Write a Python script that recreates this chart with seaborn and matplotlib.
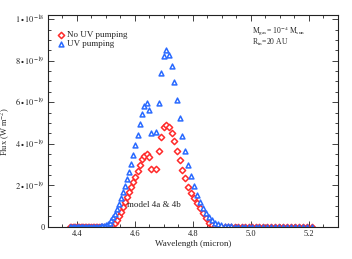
import numpy as np
import pandas as pd
import matplotlib
matplotlib.use("Agg")
import matplotlib.pyplot as plt
import matplotlib.ticker as mticker
import seaborn as sns

# CO v=1-0 line positions (micron): R branch (short side), P branch (long side)
wave_r = [4.3773, 4.3815, 4.3858, 4.3902, 4.3946, 4.3992, 4.4037, 4.4084, 4.4132, 4.4180,
          4.4229, 4.4279, 4.4330, 4.4381, 4.4434, 4.4487, 4.4541, 4.4596, 4.4652, 4.4708,
          4.4766, 4.4824, 4.4883, 4.4943, 4.5004, 4.5066, 4.5128, 4.5191, 4.5256, 4.5321,
          4.5387, 4.5454, 4.5522, 4.5591, 4.5661, 4.5731, 4.5803, 4.5876, 4.5950, 4.6024,
          4.6100, 4.6177, 4.6254, 4.6333, 4.6413, 4.6493, 4.6575]
wave_p = [4.6742, 4.6826, 4.6912, 4.6999, 4.7088, 4.7177, 4.7268, 4.7359, 4.7452, 4.7546,
          4.7641, 4.7737, 4.7834, 4.7933, 4.8032, 4.8134, 4.8236, 4.8339, 4.8444, 4.8550,
          4.8658, 4.8766, 4.8876, 4.8988, 4.9100, 4.9214, 4.9330, 4.9447, 4.9565, 4.9685,
          4.9806, 4.9928, 5.0053, 5.0178, 5.0305, 5.0434, 5.0564, 5.0696, 5.0829, 5.0964,
          5.1100, 5.1238, 5.1378, 5.1520, 5.1664, 5.1809, 5.1955, 5.2104]

# line fluxes, units of 1e-18 W m^-2
flux_nouv_r = [0.0, 0.0, 0.0, 0.0, 0.0, 0.0, 0.0, 0.0, 0.0, 0.0,
               0.0, 0.0, 0.0, 0.0, 0.0, 0.0, 0.0, 0.0, 0.0, 0.0,
               0.0, 0.0, 0.0, 0.0, 0.0, 0.001, 0.003, 0.006, 0.012, 0.021,
               0.034, 0.054, 0.074, 0.098, 0.122, 0.146, 0.170, 0.194, 0.218, 0.242,
               0.267, 0.299, 0.326, 0.342, 0.352, 0.336, 0.278]
flux_nouv_p = [0.278, 0.363, 0.435, 0.479, 0.492, 0.482, 0.452, 0.415, 0.366, 0.320,
               0.275, 0.235, 0.194, 0.162, 0.138, 0.114, 0.090, 0.066, 0.042, 0.021,
               0.010, 0.005, 0.002, 0.001, 0.0, 0.0, 0.0, 0.0, 0.0, 0.0,
               0.0, 0.0, 0.0, 0.0, 0.0, 0.0, 0.0, 0.0, 0.0, 0.0,
               0.0, 0.0, 0.0, 0.0, 0.0, 0.0, 0.0, 0.0]
flux_uv_r = [0.0, 0.0, 0.0, 0.0, 0.0, 0.0, 0.0, 0.0, 0.0, 0.0,
             0.0, 0.0, 0.0, 0.0, 0.0, 0.0, 0.0, 0.0, 0.0, 0.001,
             0.001, 0.002, 0.003, 0.005, 0.008, 0.013, 0.021, 0.032, 0.046, 0.064,
             0.085, 0.110, 0.138, 0.166, 0.197, 0.230, 0.265, 0.302, 0.347, 0.393,
             0.443, 0.495, 0.545, 0.580, 0.596, 0.564, 0.454]
flux_uv_p = [0.459, 0.596, 0.741, 0.821, 0.850, 0.829, 0.776, 0.697, 0.612, 0.524,
             0.439, 0.363, 0.300, 0.246, 0.198, 0.154, 0.122, 0.090, 0.066, 0.047,
             0.032, 0.021, 0.013, 0.008, 0.005, 0.003, 0.002, 0.001, 0.0, 0.0,
             0.0, 0.0, 0.0, 0.0, 0.0, 0.0, 0.0, 0.0, 0.0, 0.0,
             0.0, 0.0, 0.0, 0.0, 0.0, 0.0, 0.0, 0.0]

series_names = ["No UV pumping", "UV pumping"]
series_colors = ["#ff2a2a", "#2a6aff"]
series_markers = ["D", "^"]

ytick_vals = [0.0, 0.2, 0.4, 0.6, 0.8, 1.0]
ytick_labels = ["0", r"$2\bullet10^{-19}$", r"$4\bullet10^{-19}$",
                r"$6\bullet10^{-19}$", r"$8\bullet10^{-19}$", r"$1\bullet10^{-18}$"]
xtick_vals = [4.4, 4.6, 4.8, 5.0, 5.2]

n = len(wave_r) + len(wave_p)
df = pd.DataFrame({
    "wave": (wave_r + wave_p) * 2,
    "flux": flux_nouv_r + flux_nouv_p + flux_uv_r + flux_uv_p,
    "model": [series_names[0]] * n + [series_names[1]] * n,
})

sns.set_style("ticks")
plt.rcParams["font.family"] = ["Liberation Serif", "DejaVu Serif"]
plt.rcParams["mathtext.fontset"] = "stix"

fig = plt.figure(figsize=(3.52, 2.59), dpi=100)
ax = fig.add_axes([0.136, 0.124, 0.823, 0.818])

for name, col, mk, sz in zip(series_names, series_colors, series_markers, [10, 12]):
    sub = df[df["model"] == name]
    sns.scatterplot(data=sub, x="wave", y="flux", marker=mk, s=sz, color=col,
                    ax=ax, label=name, legend=False)
    coll = ax.collections[-1]
    coll.set_facecolor("white")
    coll.set_edgecolor(col)
    coll.set_linewidth(1.1)

ax.set_xlim(4.3, 5.3)
ax.set_ylim(0, 1.02)
ax.set_xticks(xtick_vals)
ax.xaxis.set_minor_locator(mticker.MultipleLocator(0.05))
ax.set_yticks(ytick_vals)
ax.set_yticklabels(ytick_labels)
ax.yaxis.set_minor_locator(mticker.MultipleLocator(0.05))
ax.tick_params(which="both", direction="in", top=True, right=True,
               labelsize=6, width=0.6, colors="#222222", pad=2)
ax.tick_params(which="major", length=4)
ax.tick_params(which="minor", length=2)
for sp in ax.spines.values():
    sp.set_linewidth(0.8)
    sp.set_color("#222222")

ax.set_xlabel("Wavelength (micron)", fontsize=6.5, labelpad=2)
ax.set_ylabel(r"Flux (W m$^{-2}$)", fontsize=6)
ax.yaxis.set_label_coords(-0.125, 0.45)

ax.legend(loc="upper left", bbox_to_anchor=(0.0, 0.96), frameon=False,
          fontsize=6.5, handletextpad=0.1, labelspacing=0.1, borderpad=0.3,
          handlelength=1.2, markerscale=1.0)

ax.text(0.704, 0.925, r"M$_{\rm gas}$= 10$^{-4}$ M$_{\rm sun}$", transform=ax.transAxes,
        fontsize=5.5, va="center")
ax.text(0.704, 0.87, r"R$_{\rm in}$=20 AU", transform=ax.transAxes,
        fontsize=5.5, va="center")
ax.text(4.572, 0.106, "model 4a & 4b", fontsize=6.5, va="center")

fig.savefig("out.png", dpi=100)
